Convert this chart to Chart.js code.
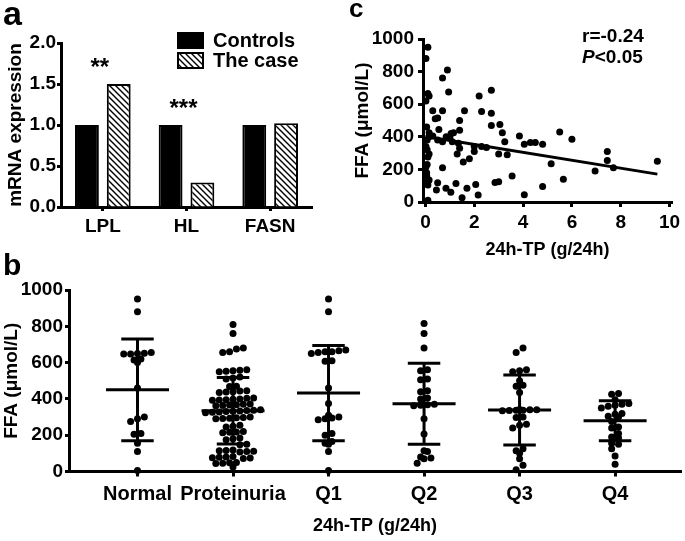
<!DOCTYPE html>
<html>
<head>
<meta charset="utf-8">
<script src="https://cdn.jsdelivr.net/npm/chart.js@4"></script>
<style>
  body { margin: 0; background: #fff; width: 685px; height: 541px; position: relative; overflow: hidden;
         font-family: "Liberation Sans", Arial, sans-serif; font-weight: bold; color: #000; }
  .box { position: absolute; }
  .box canvas { display: block; }
  .lbl { position: absolute; line-height: 1; white-space: nowrap; }
</style>
</head>
<body>
<div class="box" style="left:0;top:0"><canvas id="chartA" width="340" height="235"></canvas></div>
<div class="box" style="left:0;top:240px"><canvas id="chartB" width="685" height="301"></canvas></div>
<div class="box" style="left:340px;top:0"><canvas id="chartC" width="345" height="265"></canvas></div>

<div class="lbl" style="left:3px;top:-4px;font-size:34px">a</div>
<div class="lbl" style="left:3px;top:250px;font-size:30px">b</div>
<div class="lbl" style="left:349px;top:-5px;font-size:26px">c</div>
<div class="lbl" style="left:582px;top:26px;font-size:19px">r=-0.24</div>
<div class="lbl" style="left:582px;top:47px;font-size:19px"><i>P</i>&lt;0.05</div>

<script>
// ---- panel a: mRNA expression ----
const genes = ["LPL", "HL", "FASN"];
const controlsExpr = [1.0, 1.0, 1.0];
const caseExpr = [1.5, 0.3, 1.02];
const sigMarks = ["**", "***", ""];

// ---- panel c: FFA vs 24h-TP ----
const tpX = [0.1, 0.02, 0.1, 0.15, 0.9, 0.7, 0.95, 0.3, 0.4, 0.5, 0.7, 0.05, 0.55, 0.85, 1.05, 1.15,
  1.4, 1.6, 1.4, 1.4, 1.3, 1.1, 0.7, 1.55, 1.8, 2.0, 2.0, 2.2, 2.3, 2.3, 2.7, 2.7, 2.7, 3.05, 3.15,
  3.25, 3.0, 3.35, 2.5, 2.85, 3.0, 3.55, 3.85, 4.05, 4.3, 4.5, 4.8, 4.05, 4.8, 5.15, 5.5, 5.65, 6.0,
  6.95, 7.45, 7.45, 7.7, 9.5, 0.1, 0.5, 0.45, 0.84, 1.04, 1.25, 1.7, 1.5, 2.06, 2.16, 0.1, 0.05, 0.05,
  0.02, 0.1, 0.15, 0.07, 0.07, 0.15, 0.02, 0.07, 0.1, 0.15, 0.5, 0.3, 0.7, 0.15, 0.02, 1.0, 1.35];
const ffaY = [950, 880, 665, 650, 810, 760, 675, 560, 510, 515, 560, 460, 445, 400, 420, 425,
  500, 560, 440, 330, 295, 370, 210, 245, 265, 340, 310, 650, 555, 340, 685, 545, 470, 475, 425,
  370, 295, 290, 335, 120, 125, 160, 405, 355, 365, 365, 355, 45, 95, 235, 430, 140, 385,
  190, 310, 255, 210, 250, 104, 118, 74, 84, 60, 114, 84, 26, 108, 43, 10, 180, 160,
  215, 276, 295, 320, 380, 400, 340, 230, 125, 135, 380, 405, 370, 425, 620, 395, 360];
const fitX = [0, 9.5];
const fitY = [402, 171];

// ---- panel b: FFA by group ----
const groups = ["Normal", "Proteinuria", "Q1", "Q2", "Q3", "Q4"];
const normalFFA = [950, 880, 655, 652, 650, 648, 647, 620, 615, 600, 460, 300, 290, 275, 210, 205, 155, 110, 5];
const proteinuriaFFA = [810, 760, 680, 675, 660, 655, 560, 558, 555, 552, 550, 520, 515, 510, 470, 468,
  445, 443, 440, 438, 435, 405, 403, 400, 398, 396, 394, 392, 372, 370, 368, 366, 364, 362,
  340, 338, 336, 334, 332, 330, 328, 326, 324, 300, 298, 296, 294, 292, 290, 255, 250, 245,
  220, 218, 216, 214, 185, 180, 175, 150, 148, 118, 116, 114, 112, 110, 108, 82, 80, 78, 76, 74, 72,
  50, 48, 46, 44, 25];
const q1FFA = [950, 880, 670, 665, 660, 660, 655, 650, 610, 608, 460, 375, 310, 300, 295, 290, 285,
  210, 200, 165, 155, 150, 110, 5];
const q2FFA = [815, 760, 680, 560, 555, 510, 505, 445, 440, 405, 400, 370, 368, 365, 362, 290, 207,
  115, 110, 80, 75, 70, 45];
const q3FFA = [680, 655, 560, 555, 550, 500, 475, 470, 435, 342, 340, 340, 338, 338, 336, 335, 300,
  298, 260, 255, 240, 125, 115, 100, 70, 35, 10];
const q4FFA = [430, 425, 395, 375, 370, 365, 360, 350, 320, 315, 305, 300, 275, 245, 240, 210, 190,
  185, 155, 150, 125, 85, 40];
const groupMean = [450, 335, 432, 373, 339, 280];
const groupSD = [280, 183, 262, 223, 193, 110];

Chart.defaults.font.family = "'Liberation Sans', Arial, sans-serif";
Chart.defaults.font.weight = "bold";
Chart.defaults.font.size = 19;
Chart.defaults.color = "#000";

const axisGrid = { drawOnChartArea: false, tickLength: 5, tickWidth: 3, color: "#000" };
const axisBorder = { width: 3, color: "#000" };
const plainNum = (v) => String(v);

// hatched fill for "The case"
function makeHatch(ctx) {
  const c = document.createElement("canvas");
  c.width = 6; c.height = 6;
  const g = c.getContext("2d");
  g.fillStyle = "#fff";
  g.fillRect(0, 0, 6, 6);
  g.strokeStyle = "#000";
  g.lineWidth = 1.4;
  g.beginPath();
  g.moveTo(-1, -1); g.lineTo(7, 7);
  g.moveTo(-1, 5); g.lineTo(1, 7);
  g.moveTo(5, -1); g.lineTo(7, 1);
  g.stroke();
  return ctx.createPattern(c, "repeat");
}

function panelA() {
  const ctx = document.getElementById("chartA").getContext("2d");
  const hatch = makeHatch(ctx);

  // stars above each gene pair
  const stars = {
    id: "stars",
    afterDatasetsDraw(chart) {
      const { ctx, scales: { x, y } } = chart;
      ctx.save();
      ctx.font = "bold 24px 'Liberation Sans', Arial, sans-serif";
      ctx.textAlign = "center";
      ctx.textBaseline = "alphabetic";
      ctx.fillStyle = "#000";
      genes.forEach((g, i) => {
        if (!sigMarks[i]) return;
        const top = Math.max(controlsExpr[i], caseExpr[i]) + 0.11;
        ctx.fillText(sigMarks[i], x.getPixelForValue(i) - 3, y.getPixelForValue(top));
      });
      ctx.restore();
    },
  };

  // legend in the top right of the plot
  const boxLegend = {
    id: "boxLegend",
    afterDraw(chart) {
      const { ctx } = chart;
      ctx.save();
      ctx.font = "bold 20px 'Liberation Sans', Arial, sans-serif";
      ctx.textBaseline = "middle";
      chart.data.datasets.forEach((ds, i) => {
        const top = 33 + i * 20;
        ctx.fillStyle = ds.backgroundColor;
        ctx.fillRect(178, top, 25, 15);
        ctx.strokeStyle = "#000";
        ctx.lineWidth = 2;
        ctx.strokeRect(178, top, 25, 15);
        ctx.fillStyle = "#000";
        ctx.fillText(ds.label, 213, top + 8);
      });
      ctx.restore();
    },
  };

  new Chart(ctx, {
    type: "bar",
    data: {
      labels: genes,
      datasets: [
        { label: "Controls", data: controlsExpr, backgroundColor: "#000", borderColor: "#000", borderWidth: 2 },
        { label: "The case", data: caseExpr, backgroundColor: hatch, borderColor: "#000", borderWidth: 2 },
      ],
    },
    options: {
      responsive: false,
      animation: false,
      layout: { padding: { top: 43, right: 28, left: 0, bottom: 0 } },
      datasets: { bar: { categoryPercentage: 0.76, barPercentage: 0.75 } },
      plugins: { legend: { display: false }, tooltip: { enabled: false } },
      scales: {
        x: {
          grid: { ...axisGrid, offset: false, tickLength: 4 },
          border: axisBorder,
          ticks: { padding: 4 },
          afterFit(s) { s.height = 28; },
        },
        y: {
          min: 0,
          max: 2,
          ticks: { stepSize: 0.5, padding: 1, callback: (v) => v.toFixed(1) },
          grid: { ...axisGrid, tickLength: 4 },
          border: axisBorder,
          title: { display: true, text: "mRNA expression", padding: { top: 4, bottom: 0 } },
          afterFit(s) { s.width = 61; },
        },
      },
    },
    plugins: [stars, boxLegend],
  });
}
panelA();

function panelC() {
  const ctx = document.getElementById("chartC").getContext("2d");
  new Chart(ctx, {
    type: "scatter",
    data: {
      datasets: [
        {
          data: tpX.map((v, i) => ({ x: v, y: ffaY[i] })),
          backgroundColor: "#000",
          pointRadius: 3.5,
          pointBorderWidth: 0,
          clip: false,
        },
        {
          data: fitX.map((v, i) => ({ x: v, y: fitY[i] })),
          showLine: true,
          borderColor: "#000",
          borderWidth: 3,
          pointRadius: 0,
        },
      ],
    },
    options: {
      responsive: false,
      animation: false,
      layout: { padding: { top: 39, right: 13, left: 0, bottom: 0 } },
      plugins: { legend: { display: false }, tooltip: { enabled: false } },
      scales: {
        x: {
          min: -0.1,
          max: 10.1,
          afterBuildTicks(s) { s.ticks = [0, 2, 4, 6, 8, 10].map((v) => ({ value: v })); },
          ticks: { padding: 4, callback: plainNum },
          grid: axisGrid,
          border: axisBorder,
          title: { display: true, text: "24h-TP (g/24h)", font: { size: 18 }, padding: { top: 0, bottom: 4 } },
          afterFit(s) { s.height = 63; },
        },
        y: {
          min: 0,
          max: 1000,
          ticks: { stepSize: 200, padding: 4, callback: plainNum },
          grid: axisGrid,
          border: axisBorder,
          title: { display: true, text: "FFA (\u03bcmol/L)", padding: { top: 11, bottom: 0 } },
          afterFit(s) { s.width = 83; },
        },
      },
    },
  });
}
panelC();

// row-binned dot plot: values in the same band sit side by side
function swarm(vals, center) {
  const band = 38;   // FFA units per row
  const dx = 0.072;  // category units between neighbours
  const rows = {};
  vals.forEach((v) => {
    const k = Math.floor(v / band);
    (rows[k] = rows[k] || []).push(v);
  });
  const pts = [];
  Object.values(rows).forEach((row) => {
    row.sort((a, b) => a - b);
    row.forEach((v, j) => pts.push({ x: center + (j - (row.length - 1) / 2) * dx, y: v }));
  });
  return pts;
}

function panelB() {
  const groupData = [normalFFA, proteinuriaFFA, q1FFA, q2FFA, q3FFA, q4FFA];

  const meanSD = {
    id: "meanSD",
    afterDatasetsDraw(chart) {
      const { ctx, scales: { x, y } } = chart;
      const seg = (a, b, v0, v1) => {
        ctx.beginPath();
        ctx.moveTo(x.getPixelForValue(a), y.getPixelForValue(v0));
        ctx.lineTo(x.getPixelForValue(b), y.getPixelForValue(v1));
        ctx.stroke();
      };
      ctx.save();
      ctx.strokeStyle = "#000";
      ctx.lineWidth = 3;
      groups.forEach((g, i) => {
        const m = groupMean[i], s = groupSD[i];
        seg(i - 0.33, i + 0.33, m, m);
        seg(i, i, m - s, m + s);
        seg(i - 0.17, i + 0.17, m + s, m + s);
        seg(i - 0.17, i + 0.17, m - s, m - s);
      });
      ctx.restore();
    },
  };

  const ctx = document.getElementById("chartB").getContext("2d");
  new Chart(ctx, {
    type: "scatter",
    data: {
      datasets: groupData.map((vals, i) => ({
        label: groups[i],
        data: swarm(vals, i),
        backgroundColor: "#000",
        pointRadius: 3.5,
        pointBorderWidth: 0,
        clip: false,
      })),
    },
    options: {
      responsive: false,
      animation: false,
      layout: { padding: { top: 50, right: 2, left: 0, bottom: 0 } },
      plugins: { legend: { display: false }, tooltip: { enabled: false } },
      scales: {
        x: {
          type: "linear",
          min: -0.717,
          max: 5.69,
          afterBuildTicks(s) { s.ticks = groups.map((g, i) => ({ value: i })); },
          ticks: { font: { size: 20 }, padding: 6, autoSkip: false, maxRotation: 0, callback: (v) => groups[v] },
          grid: axisGrid,
          border: axisBorder,
          title: { display: true, text: "24h-TP (g/24h)", font: { size: 18 }, padding: { top: 0, bottom: 4 } },
          afterFit(s) { s.height = 69.5; },
        },
        y: {
          min: 0,
          max: 1000,
          ticks: { stepSize: 200, padding: 2, callback: plainNum },
          grid: { ...axisGrid, tickLength: 4 },
          border: axisBorder,
          title: { display: true, text: "FFA (\u03bcmol/L)", padding: { top: 0, bottom: 0 } },
          afterFit(s) { s.width = 69; },
        },
      },
    },
    plugins: [meanSD],
  });
}
panelB();
</script>
</body>
</html>
